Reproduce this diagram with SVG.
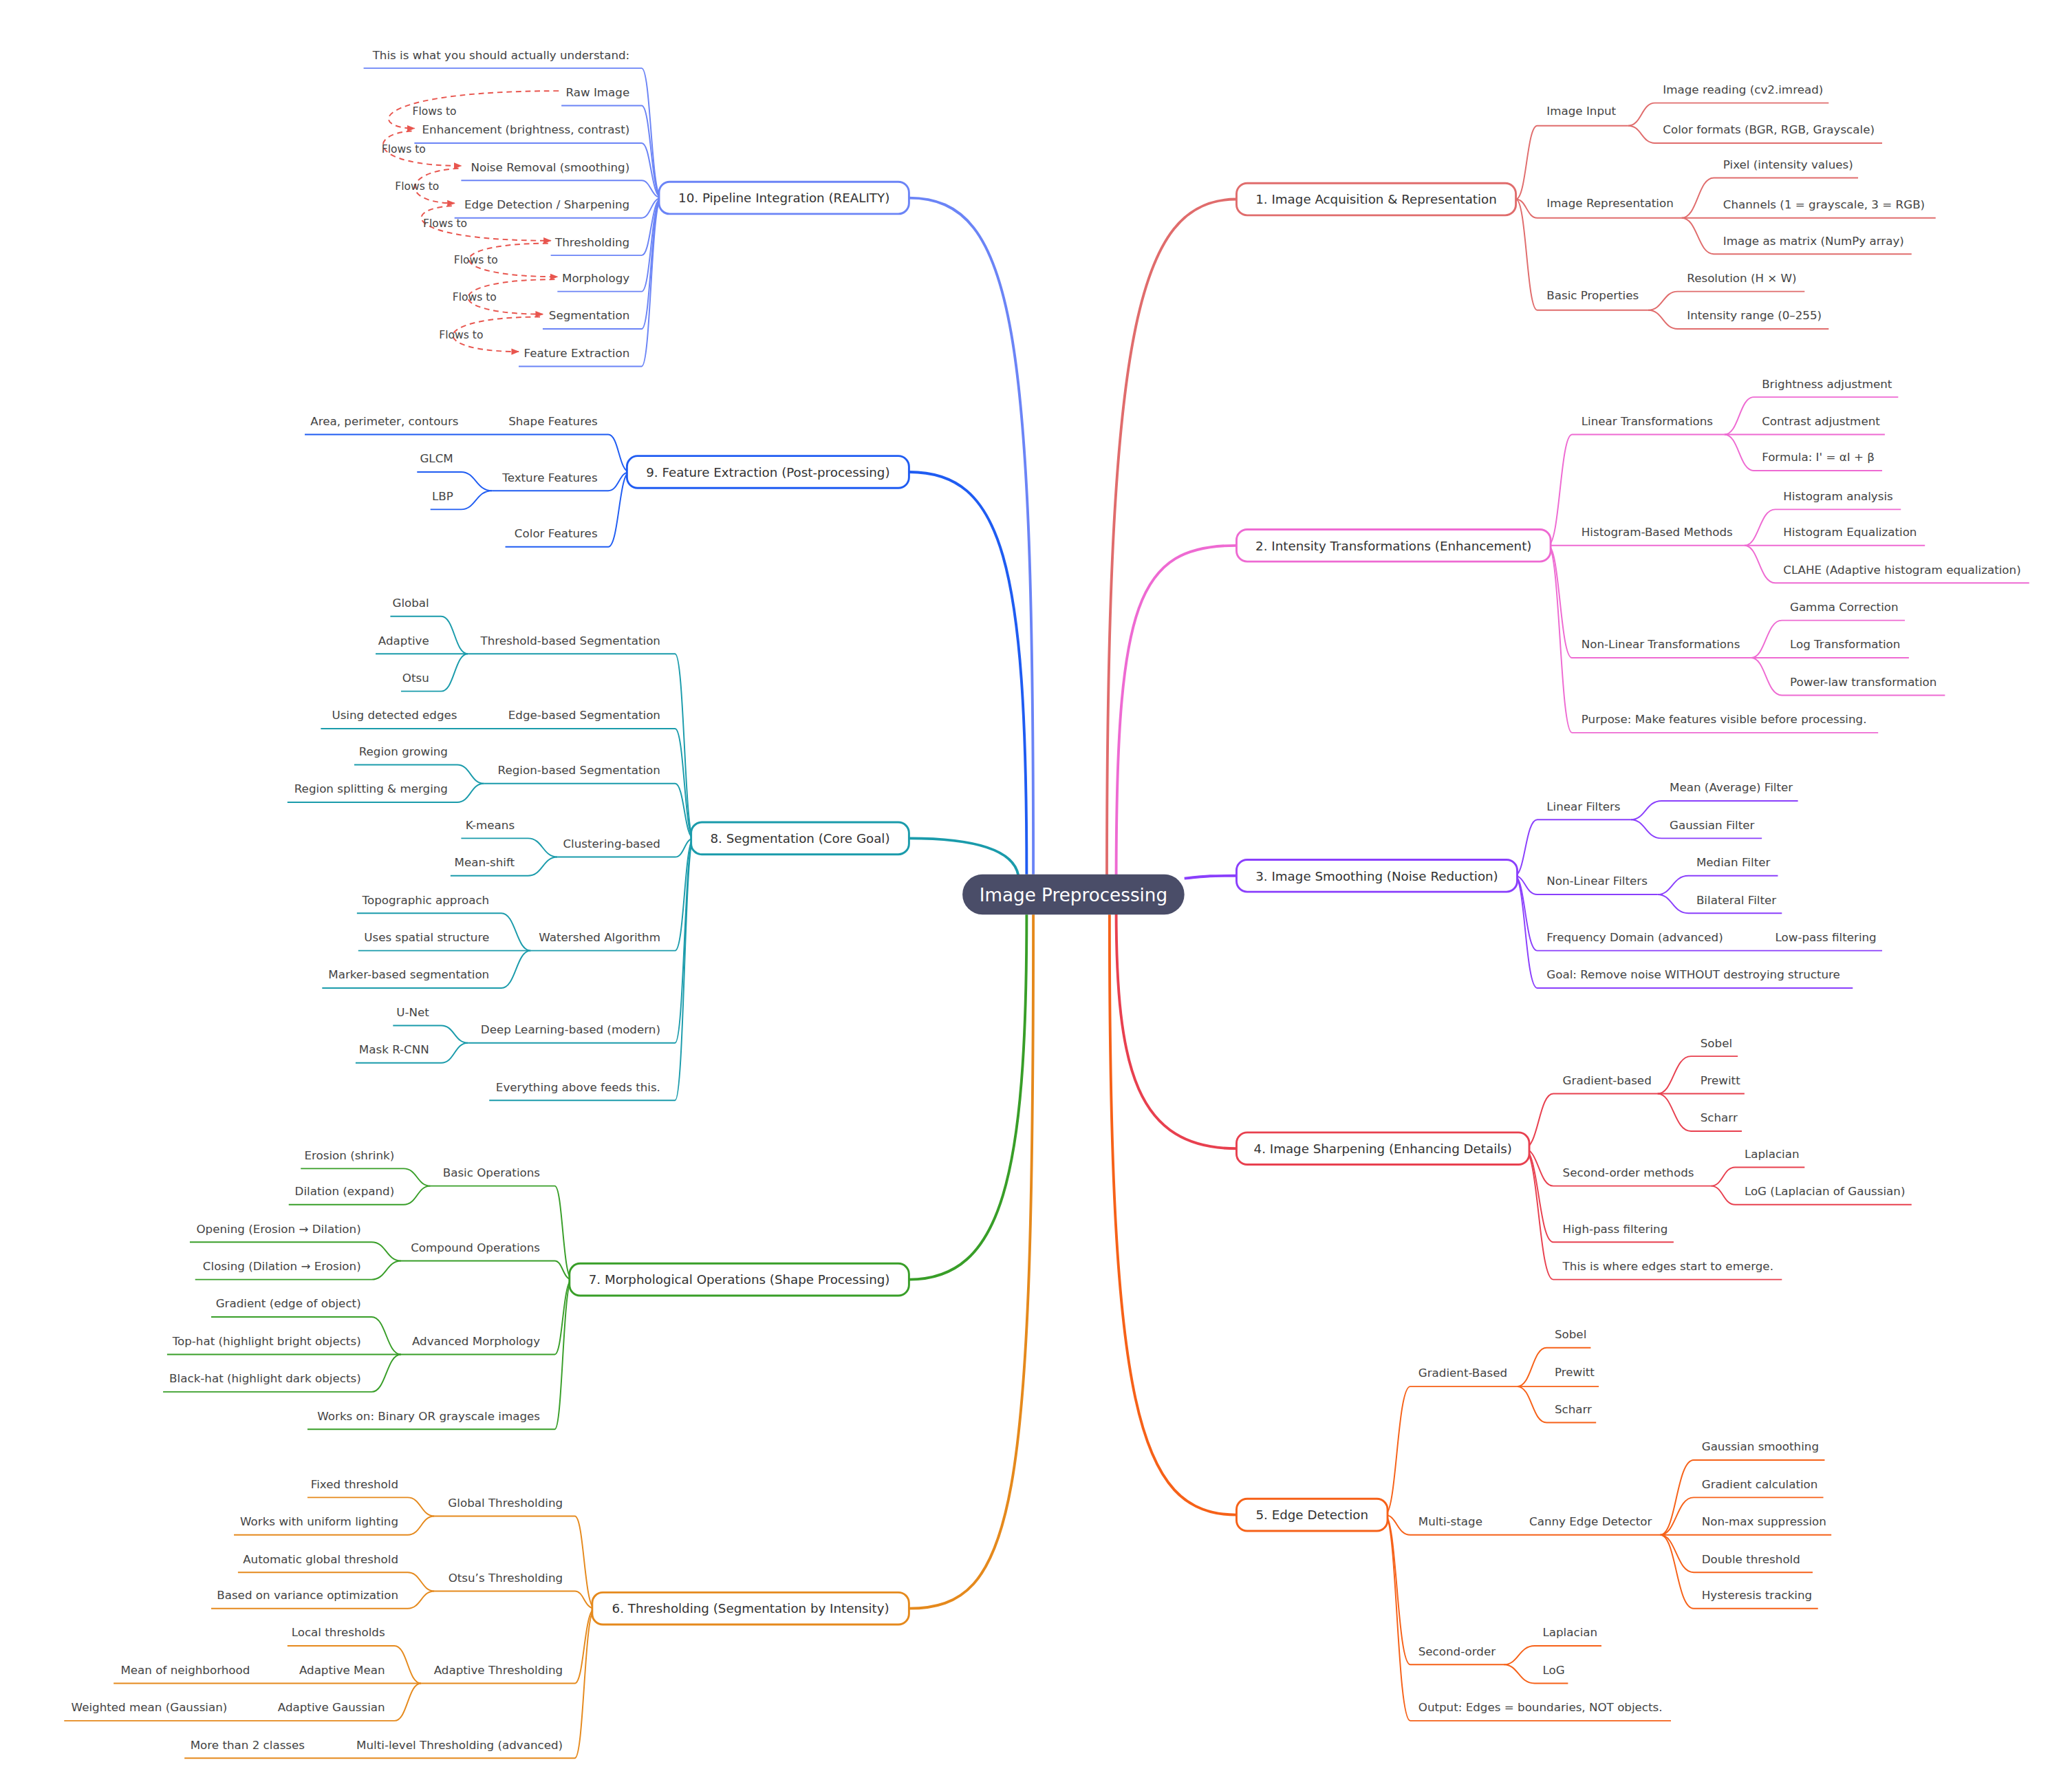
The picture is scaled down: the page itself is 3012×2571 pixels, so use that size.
<svg xmlns="http://www.w3.org/2000/svg" width="3012" height="2571" viewBox="0 0 3012 2571">
<style>
.t{font-family:"DejaVu Sans",sans-serif;font-size:8.6px;fill:#444}
.e{text-anchor:end}
.n{font-family:"DejaVu Sans",sans-serif;font-size:9.4px;fill:#333;text-anchor:middle}
path{fill:none;stroke-width:1}
.b{stroke-width:2}
.c1{stroke:#e06c6c}.c2{stroke:#ee6ad2}.c3{stroke:#8a3ffc}.c4{stroke:#e8404f}.c5{stroke:#f66118}
.c6{stroke:#e5891c}.c7{stroke:#389e28}.c8{stroke:#1a9bab}.c9{stroke:#1f5cf2}.c10{stroke:#6b84f6}
.box{fill:#fff;stroke-width:1.5}
.fl{stroke:#e8554e;stroke-dasharray:4 3;stroke-width:1}
</style>
<defs><marker id="ar" viewBox="0 0 10 10" refX="9" refY="5" markerWidth="6" markerHeight="6" orient="auto"><path d="M0,1 L10,5 L0,9 z" style="fill:#e8554e;stroke:none"/></marker></defs>
<rect width="3012" height="2571" fill="#fff"/>
<g transform="scale(1.9432)">
<g id="connectors">
<path class="b c1" d="M828,660 C828,250 850,149 925,149"/>
<path class="b c2" d="M835,660 C835,450 850,408 925,408"/>
<path class="b c3" d="M886,657 C905,655 905,655 925,655"/>
<path class="b c4" d="M835,680 C835,800 850,859 925,859"/>
<path class="b c5" d="M830,684 C830,1050 850,1133 925,1133"/>
<path class="b c10" d="M773,654 C773,250 760,148 680,148"/>
<path class="b c9" d="M768,654 C768,420 750,353 680,353"/>
<path class="b c8" d="M680,627 C740,627 760,640 762,656"/>
<path class="b c7" d="M768,684 C768,880 750,957 680,957"/>
<path class="b c6" d="M773,684 C773,1130 760,1203 680,1203"/>
<g class="c1">
<path d="M1134,149 C1142,149 1142,94 1150,94 H1218"/><path d="M1134,149 C1142,149 1142,163 1150,163 H1258"/><path d="M1134,149 C1142,149 1142,232 1150,232 H1233"/>
<path d="M1218,94 C1228,94 1228,77 1238,77 H1368"/><path d="M1218,94 C1228,94 1228,107 1238,107 H1408"/>
<path d="M1258,163 C1270,163 1270,133 1282,133 H1390"/><path d="M1258,163 H1448"/><path d="M1258,163 C1270,163 1270,190 1282,190 H1430"/>
<path d="M1233,232 C1244,232 1244,218 1255,218 H1350"/><path d="M1233,232 C1244,232 1244,246 1255,246 H1368"/>
</g>
<g class="c2">
<path d="M1158,408 C1167,408 1167,325 1176,325 H1290"/><path d="M1158,408 H1305"/><path d="M1158,408 C1167,408 1167,492 1176,492 H1310"/><path d="M1158,408 C1167,408 1167,548 1176,548 H1405"/>
<path d="M1290,325 C1301,325 1301,297 1312,297 H1420"/><path d="M1290,325 H1410"/><path d="M1290,325 C1301,325 1301,352 1312,352 H1408"/>
<path d="M1305,408 C1316,408 1316,381 1328,381 H1422"/><path d="M1305,408 H1440"/><path d="M1305,408 C1316,408 1316,436 1328,436 H1518"/>
<path d="M1310,492 C1321,492 1321,464 1333,464 H1425"/><path d="M1310,492 H1428"/><path d="M1310,492 C1321,492 1321,520 1333,520 H1455"/>
</g>
<g class="c3">
<path d="M1133,655 C1141,655 1141,613 1150,613 H1220"/><path d="M1133,655 C1141,655 1141,669 1150,669 H1240"/><path d="M1133,655 C1141,655 1141,711 1150,711 H1408"/><path d="M1133,655 C1141,655 1141,739 1150,739 H1386"/>
<path d="M1220,613 C1231,613 1231,599 1243,599 H1345"/><path d="M1220,613 C1231,613 1231,627 1243,627 H1318"/>
<path d="M1240,669 C1251,669 1251,655 1263,655 H1330"/><path d="M1240,669 C1251,669 1251,683 1263,683 H1333"/>
</g>
<g class="c4">
<path d="M1140,859 C1151,859 1151,818 1162,818 H1240"/><path d="M1140,859 C1151,859 1151,887 1162,887 H1280"/><path d="M1140,859 C1151,859 1151,929 1162,929 H1252"/><path d="M1140,859 C1151,859 1151,957 1162,957 H1333"/>
<path d="M1240,818 C1252,818 1252,790 1265,790 H1300"/><path d="M1240,818 H1305"/><path d="M1240,818 C1252,818 1252,846 1265,846 H1303"/>
<path d="M1280,887 C1289,887 1289,873 1298,873 H1350"/><path d="M1280,887 C1289,887 1289,901 1298,901 H1430"/>
</g>
<g class="c5">
<path d="M1036,1133 C1045,1133 1045,1037 1055,1037 H1135"/><path d="M1036,1133 C1045,1133 1045,1148 1055,1148 H1242"/><path d="M1036,1133 C1045,1133 1045,1245 1055,1245 H1125"/><path d="M1036,1133 C1045,1133 1045,1287 1055,1287 H1250"/>
<path d="M1135,1037 C1146,1037 1146,1008 1157,1008 H1190"/><path d="M1135,1037 H1196"/><path d="M1135,1037 C1146,1037 1146,1064 1157,1064 H1194"/>
<path d="M1242,1148 C1254,1148 1254,1092 1267,1092 H1365"/><path d="M1242,1148 C1254,1148 1254,1120 1267,1120 H1364"/><path d="M1242,1148 H1370"/><path d="M1242,1148 C1254,1148 1254,1176 1267,1176 H1356"/><path d="M1242,1148 C1254,1148 1254,1203 1267,1203 H1360"/>
<path d="M1125,1245 C1136,1245 1136,1231 1148,1231 H1198"/><path d="M1125,1245 C1136,1245 1136,1259 1148,1259 H1173"/>
</g>
<g class="c10">
<path d="M495,148 C487,148 487,51 480,51 H272"/><path d="M495,148 C487,148 487,79 480,79 H420"/><path d="M495,148 C487,148 487,107 480,107 H310"/><path d="M495,148 C487,148 487,135 480,135 H345"/><path d="M495,148 C487,148 487,163 480,163 H340"/><path d="M495,148 C487,148 487,191 480,191 H412"/><path d="M495,148 C487,148 487,218 480,218 H417"/><path d="M495,148 C487,148 487,246 480,246 H406"/><path d="M495,148 C487,148 487,274 480,274 H388"/>
</g>
<g>
<path class="fl" marker-end="url(#ar)" d="M418,68 C275,68 275,96 310,96"/>
<path class="fl" marker-end="url(#ar)" d="M308,98 C275,100 275,124 345,124"/>
<path class="fl" marker-end="url(#ar)" d="M343,126 C300,128 300,152 340,152"/>
<path class="fl" marker-end="url(#ar)" d="M338,154 C300,156 300,180 412,180"/>
<path class="fl" marker-end="url(#ar)" d="M410,182 C330,182 330,207 417,207"/>
<path class="fl" marker-end="url(#ar)" d="M415,209 C330,209 330,235 406,235"/>
<path class="fl" marker-end="url(#ar)" d="M404,237 C320,237 320,263 388,263"/>
</g>
<g class="c9">
<path d="M471,353 C463,353 463,325 455,325 H228"/><path d="M471,353 C463,353 463,367 455,367 H368"/><path d="M471,353 C463,353 463,409 455,409 H378"/>
<path d="M368,367 C356,367 356,353 345,353 H312"/><path d="M368,367 C356,367 356,381 345,381 H322"/>
</g>
<g class="c8">
<path d="M519,627 C512,627 512,489 505,489 H350"/><path d="M519,627 C512,627 512,545 505,545 H240"/><path d="M519,627 C512,627 512,586 505,586 H362"/><path d="M519,627 C512,627 512,641 505,641 H417"/><path d="M519,627 C512,627 512,711 505,711 H397"/><path d="M519,627 C512,627 512,780 505,780 H350"/><path d="M519,627 C512,627 512,823 505,823 H366"/>
<path d="M350,489 C340,489 340,461 330,461 H292"/><path d="M350,489 H281"/><path d="M350,489 C340,489 340,517 330,517 H300"/>
<path d="M362,586 C352,586 352,572 342,572 H265"/><path d="M362,586 C352,586 352,600 342,600 H215"/>
<path d="M417,641 C406,641 406,627 395,627 H345"/><path d="M417,641 C406,641 406,655 395,655 H337"/>
<path d="M397,711 C386,711 386,683 375,683 H267"/><path d="M397,711 H268"/><path d="M397,711 C386,711 386,739 375,739 H241"/>
<path d="M350,780 C340,780 340,767 330,767 H294"/><path d="M350,780 C340,780 340,795 330,795 H266"/>
</g>
<g class="c7">
<path d="M428,957 C421,957 421,887 415,887 H322"/><path d="M428,957 C421,957 421,943 415,943 H300"/><path d="M428,957 C421,957 421,1013 415,1013 H300"/><path d="M428,957 C421,957 421,1069 415,1069 H230"/>
<path d="M322,887 C312,887 312,874 302,874 H225"/><path d="M322,887 C312,887 312,901 302,901 H216"/>
<path d="M300,943 C289,943 289,929 278,929 H142"/><path d="M300,943 C289,943 289,957 278,957 H146"/>
<path d="M300,1013 C289,1013 289,985 278,985 H158"/><path d="M300,1013 H125"/><path d="M300,1013 C289,1013 289,1041 278,1041 H122"/>
</g>
<g class="c6">
<path d="M445,1203 C437,1203 437,1134 430,1134 H325"/><path d="M445,1203 C437,1203 437,1190 430,1190 H325"/><path d="M445,1203 C437,1203 437,1259 430,1259 H315"/><path d="M445,1203 C437,1203 437,1315 430,1315 H138"/>
<path d="M325,1134 C315,1134 315,1120 305,1120 H230"/><path d="M325,1134 C315,1134 315,1148 305,1148 H175"/>
<path d="M325,1190 C315,1190 315,1176 305,1176 H178"/><path d="M325,1190 C315,1190 315,1203 305,1203 H158"/>
<path d="M315,1259 C305,1259 305,1231 295,1231 H215"/><path d="M315,1259 H85"/><path d="M315,1259 C305,1259 305,1287 295,1287 H48"/>
</g>
</g>
<g id="root"><rect x="720" y="654" width="166" height="30" rx="15" fill="#4a4d68"/><text x="803" y="674" style="font-family:'DejaVu Sans',sans-serif;font-size:13.5px;fill:#fff;text-anchor:middle">Image Preprocessing</text></g>
<g id="n1"><rect class="box c1" x="925" y="137" width="209" height="24" rx="8"/><text class="n" x="1029.5" y="152.5">1. Image Acquisition &amp; Representation</text>
<text class="t" x="1157" y="86">Image Input</text><text class="t" x="1157" y="155">Image Representation</text><text class="t" x="1157" y="224">Basic Properties</text>
<text class="t" x="1244" y="70">Image reading (cv2.imread)</text><text class="t" x="1244" y="100">Color formats (BGR, RGB, Grayscale)</text>
<text class="t" x="1289" y="126">Pixel (intensity values)</text><text class="t" x="1289" y="156">Channels (1 = grayscale, 3 = RGB)</text><text class="t" x="1289" y="183">Image as matrix (NumPy array)</text>
<text class="t" x="1262" y="211">Resolution (H × W)</text><text class="t" x="1262" y="239">Intensity range (0–255)</text></g>
<g id="n2"><rect class="box c2" x="925" y="396" width="235" height="24" rx="8"/><text class="n" x="1042.5" y="411.5">2. Intensity Transformations (Enhancement)</text>
<text class="t" x="1183" y="318">Linear Transformations</text><text class="t" x="1183" y="401">Histogram-Based Methods</text><text class="t" x="1183" y="485">Non-Linear Transformations</text><text class="t" x="1183" y="541">Purpose: Make features visible before processing.</text>
<text class="t" x="1318" y="290">Brightness adjustment</text><text class="t" x="1318" y="318">Contrast adjustment</text><text class="t" x="1318" y="345">Formula: I' = αI + β</text>
<text class="t" x="1334" y="374">Histogram analysis</text><text class="t" x="1334" y="401">Histogram Equalization</text><text class="t" x="1334" y="429">CLAHE (Adaptive histogram equalization)</text>
<text class="t" x="1339" y="457">Gamma Correction</text><text class="t" x="1339" y="485">Log Transformation</text><text class="t" x="1339" y="513">Power-law transformation</text></g>
<g id="n3"><rect class="box c3" x="925" y="643" width="210" height="24" rx="8"/><text class="n" x="1030" y="658.5">3. Image Smoothing (Noise Reduction)</text>
<text class="t" x="1157" y="606">Linear Filters</text><text class="t" x="1157" y="662">Non-Linear Filters</text><text class="t" x="1157" y="704">Frequency Domain (advanced)</text><text class="t" x="1328" y="704">Low-pass filtering</text><text class="t" x="1157" y="732">Goal: Remove noise WITHOUT destroying structure</text>
<text class="t" x="1249" y="592">Mean (Average) Filter</text><text class="t" x="1249" y="620">Gaussian Filter</text><text class="t" x="1269" y="648">Median Filter</text><text class="t" x="1269" y="676">Bilateral Filter</text></g>
<g id="n4"><rect class="box c4" x="925" y="847" width="219" height="24" rx="8"/><text class="n" x="1034.5" y="862.5">4. Image Sharpening (Enhancing Details)</text>
<text class="t" x="1169" y="811">Gradient-based</text><text class="t" x="1169" y="880">Second-order methods</text><text class="t" x="1169" y="922">High-pass filtering</text><text class="t" x="1169" y="950">This is where edges start to emerge.</text>
<text class="t" x="1272" y="783">Sobel</text><text class="t" x="1272" y="811">Prewitt</text><text class="t" x="1272" y="839">Scharr</text><text class="t" x="1305" y="866">Laplacian</text><text class="t" x="1305" y="894">LoG (Laplacian of Gaussian)</text></g>
<g id="n5"><rect class="box c5" x="925" y="1121" width="113" height="24" rx="8"/><text class="n" x="981.5" y="1136.5">5. Edge Detection</text>
<text class="t" x="1061" y="1030">Gradient-Based</text><text class="t" x="1061" y="1141">Multi-stage</text><text class="t" x="1144" y="1141">Canny Edge Detector</text><text class="t" x="1061" y="1238">Second-order</text><text class="t" x="1061" y="1280">Output: Edges = boundaries, NOT objects.</text>
<text class="t" x="1163" y="1001">Sobel</text><text class="t" x="1163" y="1029">Prewitt</text><text class="t" x="1163" y="1057">Scharr</text>
<text class="t" x="1273" y="1085">Gaussian smoothing</text><text class="t" x="1273" y="1113">Gradient calculation</text><text class="t" x="1273" y="1141">Non-max suppression</text><text class="t" x="1273" y="1169">Double threshold</text><text class="t" x="1273" y="1196">Hysteresis tracking</text>
<text class="t" x="1154" y="1224">Laplacian</text><text class="t" x="1154" y="1252">LoG</text></g>
<g id="n10"><rect class="box c10" x="493" y="136" width="187" height="24" rx="8"/><text class="n" x="586.5" y="151.5">10. Pipeline Integration (REALITY)</text>
<text class="t e" x="471" y="44">This is what you should actually understand:</text><text class="t e" x="471" y="72">Raw Image</text><text class="t e" x="471" y="100">Enhancement (brightness, contrast)</text><text class="t e" x="471" y="128">Noise Removal (smoothing)</text><text class="t e" x="471" y="156">Edge Detection / Sharpening</text><text class="t e" x="471" y="184">Thresholding</text><text class="t e" x="471" y="211">Morphology</text><text class="t e" x="471" y="239">Segmentation</text><text class="t e" x="471" y="267">Feature Extraction</text>
<g style="font-family:'DejaVu Sans',sans-serif;font-size:8px;fill:#444;text-anchor:middle"><text x="325" y="86">Flows to</text><text x="302" y="114">Flows to</text><text x="312" y="142">Flows to</text><text x="333" y="170">Flows to</text><text x="356" y="197">Flows to</text><text x="355" y="225">Flows to</text><text x="345" y="253">Flows to</text></g></g>
<g id="n9"><rect class="box c9" x="469" y="341" width="211" height="24" rx="8"/><text class="n" x="574.5" y="356.5">9. Feature Extraction (Post-processing)</text>
<text class="t e" x="447" y="318">Shape Features</text><text class="t e" x="343" y="318">Area, perimeter, contours</text><text class="t e" x="447" y="360">Texture Features</text><text class="t e" x="447" y="402">Color Features</text><text class="t e" x="339" y="346">GLCM</text><text class="t e" x="339" y="374">LBP</text></g>
<g id="n8"><rect class="box c8" x="517" y="615" width="163" height="24" rx="8"/><text class="n" x="598.5" y="630.5">8. Segmentation (Core Goal)</text>
<text class="t e" x="494" y="482">Threshold-based Segmentation</text><text class="t e" x="494" y="538">Edge-based Segmentation</text><text class="t e" x="342" y="538">Using detected edges</text><text class="t e" x="494" y="579">Region-based Segmentation</text><text class="t e" x="494" y="634">Clustering-based</text><text class="t e" x="494" y="704">Watershed Algorithm</text><text class="t e" x="494" y="773">Deep Learning-based (modern)</text><text class="t e" x="494" y="816">Everything above feeds this.</text>
<text class="t e" x="321" y="454">Global</text><text class="t e" x="321" y="482">Adaptive</text><text class="t e" x="321" y="510">Otsu</text><text class="t e" x="335" y="565">Region growing</text><text class="t e" x="335" y="593">Region splitting &amp; merging</text><text class="t e" x="385" y="620">K-means</text><text class="t e" x="385" y="648">Mean-shift</text><text class="t e" x="366" y="676">Topographic approach</text><text class="t e" x="366" y="704">Uses spatial structure</text><text class="t e" x="366" y="732">Marker-based segmentation</text><text class="t e" x="321" y="760">U-Net</text><text class="t e" x="321" y="788">Mask R-CNN</text></g>
<g id="n7"><rect class="box c7" x="426" y="945" width="254" height="24" rx="8"/><text class="n" x="553" y="960.5">7. Morphological Operations (Shape Processing)</text>
<text class="t e" x="404" y="880">Basic Operations</text><text class="t e" x="404" y="936">Compound Operations</text><text class="t e" x="404" y="1006">Advanced Morphology</text><text class="t e" x="404" y="1062">Works on: Binary OR grayscale images</text>
<text class="t e" x="295" y="867">Erosion (shrink)</text><text class="t e" x="295" y="894">Dilation (expand)</text><text class="t e" x="270" y="922">Opening (Erosion → Dilation)</text><text class="t e" x="270" y="950">Closing (Dilation → Erosion)</text><text class="t e" x="270" y="978">Gradient (edge of object)</text><text class="t e" x="270" y="1006">Top-hat (highlight bright objects)</text><text class="t e" x="270" y="1034">Black-hat (highlight dark objects)</text></g>
<g id="n6"><rect class="box c6" x="443" y="1191" width="237" height="24" rx="8"/><text class="n" x="561.5" y="1206.5">6. Thresholding (Segmentation by Intensity)</text>
<text class="t e" x="421" y="1127">Global Thresholding</text><text class="t e" x="421" y="1183">Otsu’s Thresholding</text><text class="t e" x="421" y="1252">Adaptive Thresholding</text><text class="t e" x="421" y="1308">Multi-level Thresholding (advanced)</text><text class="t e" x="228" y="1308">More than 2 classes</text>
<text class="t e" x="298" y="1113">Fixed threshold</text><text class="t e" x="298" y="1141">Works with uniform lighting</text><text class="t e" x="298" y="1169">Automatic global threshold</text><text class="t e" x="298" y="1196">Based on variance optimization</text>
<text class="t e" x="288" y="1224">Local thresholds</text><text class="t e" x="288" y="1252">Adaptive Mean</text><text class="t e" x="187" y="1252">Mean of neighborhood</text><text class="t e" x="288" y="1280">Adaptive Gaussian</text><text class="t e" x="170" y="1280">Weighted mean (Gaussian)</text></g>
</g>
</svg>
